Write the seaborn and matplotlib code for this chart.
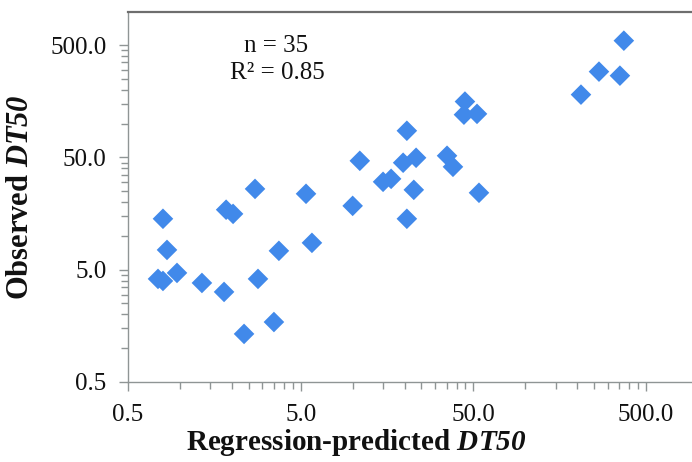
import numpy as np
import pandas as pd
import matplotlib
matplotlib.use("Agg")
import matplotlib.pyplot as plt
from matplotlib.ticker import FixedLocator, FixedFormatter, NullFormatter
import seaborn as sns

# Regression-predicted vs observed DT50 (days)
predicted = [372, 267, 353, 210, 44.7, 44.1, 52.5, 20.6, 35.2, 38.1,
             23.3, 19.6, 11.0, 16.7, 15.0, 22.6, 53.9, 10.0, 20.6, 2.72,
             5.37, 1.85, 2.03, 0.797, 3.74, 5.81, 0.841, 0.746, 0.797, 0.961,
             1.34, 1.80, 2.83, 3.50, 2.35]
observed = [547, 290, 267, 181, 157, 120, 122, 86.3, 51.7, 41.2,
            49.6, 44.8, 46.6, 32.2, 30.3, 25.7, 24.2, 18.5, 14.2, 26.2,
            23.7, 17.1, 15.7, 14.2, 7.36, 8.67, 7.50, 4.14, 3.97, 4.68,
            3.81, 3.17, 4.14, 1.71, 1.34]

major_ticks = [0.5, 5.0, 50.0, 500.0]
major_labels = ["0.5", "5.0", "50.0", "500.0"]
stats_lines = ["n = 35", "R\u00b2 = 0.85"]

df = pd.DataFrame({"predicted": predicted, "observed": observed})

sns.set_theme(style="white")
plt.rcParams["font.family"] = ["Liberation Serif", "DejaVu Serif"]
plt.rcParams["mathtext.fontset"] = "custom"
plt.rcParams["mathtext.it"] = "Liberation Serif:italic:bold"
plt.rcParams["mathtext.rm"] = "Liberation Serif:italic:bold"

fig = plt.figure(figsize=(6.92, 4.62), dpi=100)
ax = fig.add_axes([128 / 692, 80 / 462, 564 / 692, 370 / 462])

sns.scatterplot(data=df, x="predicted", y="observed", marker="D", s=110,
                color="#4189ea", edgecolor="none", ax=ax, zorder=3)

ax.set_xscale("log")
ax.set_yscale("log")
ax.set_xlim(0.5, 923)
ax.set_ylim(0.5, 985)

minor = [0.5 * k * 10 ** n for n in range(0, 4) for k in range(2, 10)]
for axis in (ax.xaxis, ax.yaxis):
    axis.set_major_locator(FixedLocator(major_ticks))
    axis.set_major_formatter(FixedFormatter(major_labels))
    axis.set_minor_locator(FixedLocator(minor))
    axis.set_minor_formatter(NullFormatter())

spine_col = "#8f9595"
ax.tick_params(axis="both", which="both", direction="out", color=spine_col,
               width=1.0, labelsize=18, labelcolor="#111111")
ax.tick_params(axis="both", which="major", length=6.5, pad=9)
ax.tick_params(axis="both", which="minor", length=5)
ax.tick_params(axis="y", which="both", left=True, right=False)
ax.tick_params(axis="x", which="both", bottom=True, top=False)

for side in ("left", "bottom"):
    ax.spines[side].set_color(spine_col)
    ax.spines[side].set_linewidth(1.0)
ax.spines["top"].set_color("#6e6e6e")
ax.spines["top"].set_linewidth(1.6)
ax.spines["right"].set_visible(False)

ax.set_xlabel(r"Regression-predicted $\mathrm{DT50}$", fontsize=21,
              fontweight="bold", color="#111111")
ax.set_ylabel(r"Observed $\mathrm{DT50}$", fontsize=22,
              fontweight="bold", color="#111111")
ax.xaxis.set_label_coords((356 - 128) / 564, -(442 - 382) / 370)
ax.yaxis.set_label_coords(-(128 - 21) / 564, (382 - 197) / 370)
ax.xaxis.label.set_va("center")
ax.yaxis.label.set_va("center")

fig.text(276 / 692, 1 - 46 / 462, stats_lines[0], ha="center", va="center",
         fontsize=18, color="#111111")
fig.text(277 / 692, 1 - 73 / 462, stats_lines[1], ha="center", va="center",
         fontsize=18, color="#111111")

fig.savefig("out.png", dpi=100, facecolor="white")
